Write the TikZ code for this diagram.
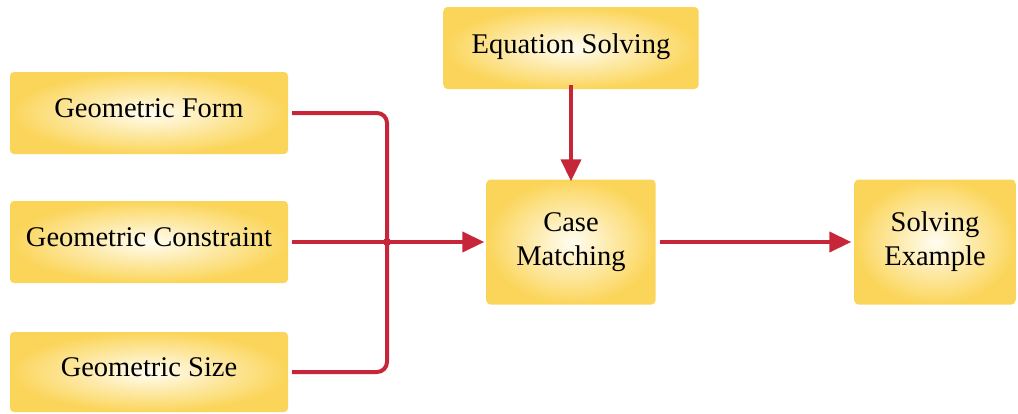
\documentclass[tikz,border=0pt]{standalone}
\usepackage{fontspec}
\setmainfont{Liberation Serif}
\usetikzlibrary{arrows.meta}
\definecolor{gold}{RGB}{251,213,90}
\definecolor{cream}{RGB}{255,253,242}
\definecolor{wirered}{RGB}{199,38,56}
\tikzset{
  box/.style={rounded corners=4pt, shading=radial, inner color=cream, outer color=gold,
    align=center, font=\fontsize{28.5}{34}\selectfont, inner sep=0pt},
  wire/.style={draw=wirered, line width=4pt},
  tip/.style={-{Triangle[length=22pt,width=20pt]}},
}
\begin{document}
\begin{tikzpicture}[x=1pt,y=-1pt]
  \useasboundingbox (0,0) rectangle (1018,413);
  % input boxes
  \node[box, minimum width=278pt, minimum height=82pt] (form) at (149,113) {Geometric Form\rule[-9pt]{0pt}{1pt}};
  \node[box, minimum width=278pt, minimum height=82pt] (constraint) at (149,242) {Geometric Constraint\rule[-9pt]{0pt}{1pt}};
  \node[box, minimum width=278pt, minimum height=80pt] (size) at (149,372) {Geometric Size\rule[-9pt]{0pt}{1pt}};
  % upper box and the main chain
  \node[box, minimum width=255pt, minimum height=82pt] (equation) at (571,48) {Equation Solving\rule[-9pt]{0pt}{1pt}};
  \node[box, minimum width=169pt, minimum height=125pt] (case) at (571,242) {Case\\Matching};
  \node[box, minimum width=161pt, minimum height=125pt] (example) at (935,242) {Solving\\Example};
  % collecting bus
  \coordinate (bus) at (387,242);
  \draw[wire, rounded corners=10pt]
    ([xshift=4pt]form.east) -- (form.east -| bus) -- (size.east -| bus) -- ([xshift=4pt]size.east);
  \fill[wirered] (bus) circle (4pt);
  \draw[wire, tip] ([xshift=4pt]constraint.east) -- ([xshift=-2pt]case.west);
  \draw[wire, tip] ([yshift=4pt]equation.south) -- ([yshift=-2pt]case.north);
  \draw[wire, tip] ([xshift=4pt]case.east) -- ([xshift=-3pt]example.west);
\end{tikzpicture}
\end{document}
